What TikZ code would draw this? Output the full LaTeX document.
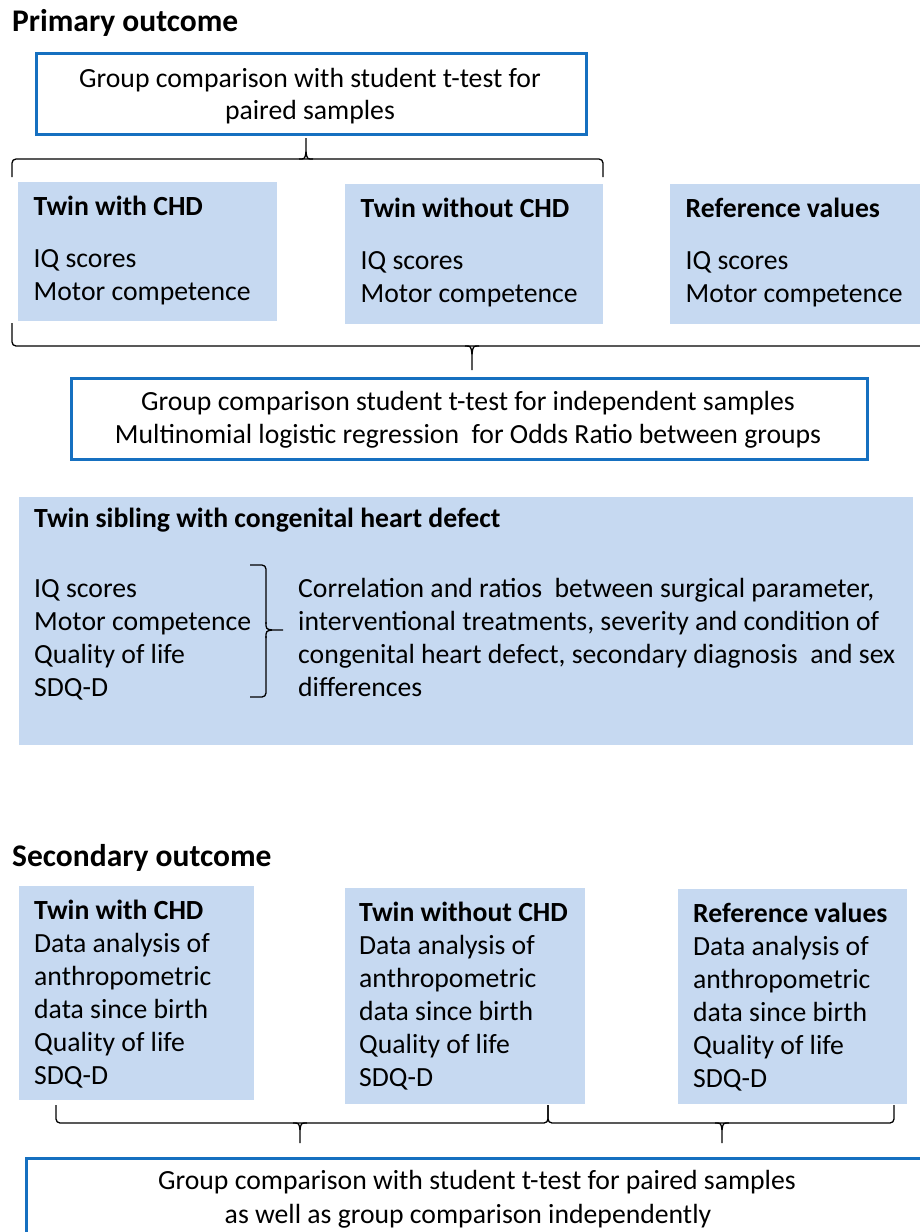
\documentclass[tikz,border=0pt]{standalone}
\usepackage{fontspec}
\setmainfont{Carlito}
\definecolor{paleblue}{RGB}{198,217,241}
\definecolor{frameblue}{RGB}{22,112,192}
\tikzset{
  plain/.style={font=\fontsize{27.7}{33}\selectfont, inner sep=0pt},
  head/.style={font=\fontsize{27.7}{33}\selectfont\bfseries, inner sep=0pt},
  section/.style={font=\fontsize{31.5}{38}\selectfont\bfseries, inner sep=0pt},
  framebox/.style={draw=frameblue, line width=3pt, fill=white, inner sep=0pt, anchor=north west},
  fillbox/.style={fill=paleblue, draw=none, inner sep=0pt, anchor=north west},
  bracket/.style={line width=1.3pt, line join=round},
}
% #1 left end, #2 right end, #3 tip x, #4 end y, #5 flat y, #6 tip y
\newcommand\wordbrace[6]{%
  \draw[bracket, rounded corners=4pt] (#1,#4) |- (#3,#5) -| (#2,#4);
  \draw[bracket] (#3-7,#5) .. controls (#3-1,#5) .. (#3,{#5+(#6-#5)*0.35}) -- (#3,#6);
  \draw[bracket] (#3+7,#5) .. controls (#3+1,#5) .. (#3,{#5+(#6-#5)*0.35});
}

\begin{document}
\begin{tikzpicture}[x=1pt,y=-1pt]
 \useasboundingbox (0,0) rectangle (920,1232);

 % primary outcome
 \node[section, anchor=base west] (primary) at (12,31) {Primary outcome};
 \node[framebox, minimum width=550pt, minimum height=81pt] (paired) at (35,52) {};
 \node[plain, anchor=base] (paired-1) at (310,87) {Group comparison with student t-test for};
 \node[plain, anchor=base] (paired-2) at (310,119) {paired samples};
 \wordbrace{12}{603}{306}{177}{159}{138}

 \foreach \nm/\xa/\ya/\xb/\yb/\hd in {twinchd/18/182/277/321/Twin with CHD,
     twinnochd/345/184/603/324/Twin without CHD, refval/670/184/940/324/Reference values}{%
   \node[fillbox, minimum width={(\xb-\xa)*1pt}, minimum height={(\yb-\ya)*1pt}] (\nm) at (\xa,\ya) {};
   \node[head, anchor=base west] (\nm-hd) at (\xa+15.5,\ya+33) {\hd};
   \foreach \ln [count=\k] in {IQ scores, Motor competence}
     \node[plain, anchor=base west] (\nm-\k) at (\xa+15.5,\ya+52.5+33*\k) {\ln};
 }
 \wordbrace{12}{940}{472}{323}{346}{370}

 \node[framebox, minimum width=796pt, minimum height=81pt] (indep) at (70,377) {};
 \node[plain, anchor=base] (indep-1) at (468,410) {Group comparison student t-test for independent samples};
 \node[plain, anchor=base] (indep-2) at (468,443) {Multinomial logistic regression\ \ for Odds Ratio between groups};

 % twin sibling with CHD
 \node[fillbox, minimum width=894pt, minimum height=248pt] (sibling) at (19,497) {};
 \node[head, anchor=base west] (sibling-hd) at (34,527) {Twin sibling with congenital heart defect};
 \foreach \ln [count=\k] in {IQ scores, Motor competence, Quality of life, SDQ-D}
   \node[plain, anchor=base west] (sibling-\k) at (34,564+33*\k) {\ln};
 \foreach \ln [count=\k] in {Correlation and ratios\ \ between surgical parameter{,},
     interventional treatments{,} severity and condition of,
     congenital heart defect{,} secondary diagnosis\ \ and sex, differences}
   \node[plain, anchor=base west] (corr-\k) at (298,564+33*\k) {\ln};
 \draw[bracket, rounded corners=4pt] (250,565) -| (266,624);
 \draw[bracket, rounded corners=4pt] (250,697) -| (266,636);
 \draw[bracket] (266,622) .. controls (266,629) .. (272,630) -- (283,630);
 \draw[bracket] (266,638) .. controls (266,631) .. (272,630);

 % secondary outcome
 \node[section, anchor=base west] (secondary) at (12,866) {Secondary outcome};
 \foreach \nm/\xa/\ya/\xb/\yb/\tx/\hd in {sectwin/19/886/254/1100/34/Twin with CHD,
     secnochd/345/888/585/1104/359/Twin without CHD, secref/678/889/907/1104/693/Reference values}{%
   \node[fillbox, minimum width={(\xb-\xa)*1pt}, minimum height={(\yb-\ya)*1pt}] (\nm) at (\xa,\ya) {};
   \node[head, anchor=base west] (\nm-hd) at (\tx,\ya+33) {\hd};
   \foreach \ln [count=\k] in {Data analysis of, anthropometric, data since birth, Quality of life, SDQ-D}
     \node[plain, anchor=base west] (\nm-\k) at (\tx,\ya+33+33*\k) {\ln};
 }
 \wordbrace{56}{548}{300}{1105}{1123}{1143}
 \wordbrace{548}{894}{722}{1105}{1123}{1143}

 \node[framebox, minimum width=950pt, minimum height=110pt] (final) at (25,1157) {};
 \node[plain, anchor=base] (final-1) at (477,1189) {Group comparison with student t-test for paired samples};
 \node[plain, anchor=base] (final-2) at (468,1223) {as well as group comparison independently};
\end{tikzpicture}
\end{document}
